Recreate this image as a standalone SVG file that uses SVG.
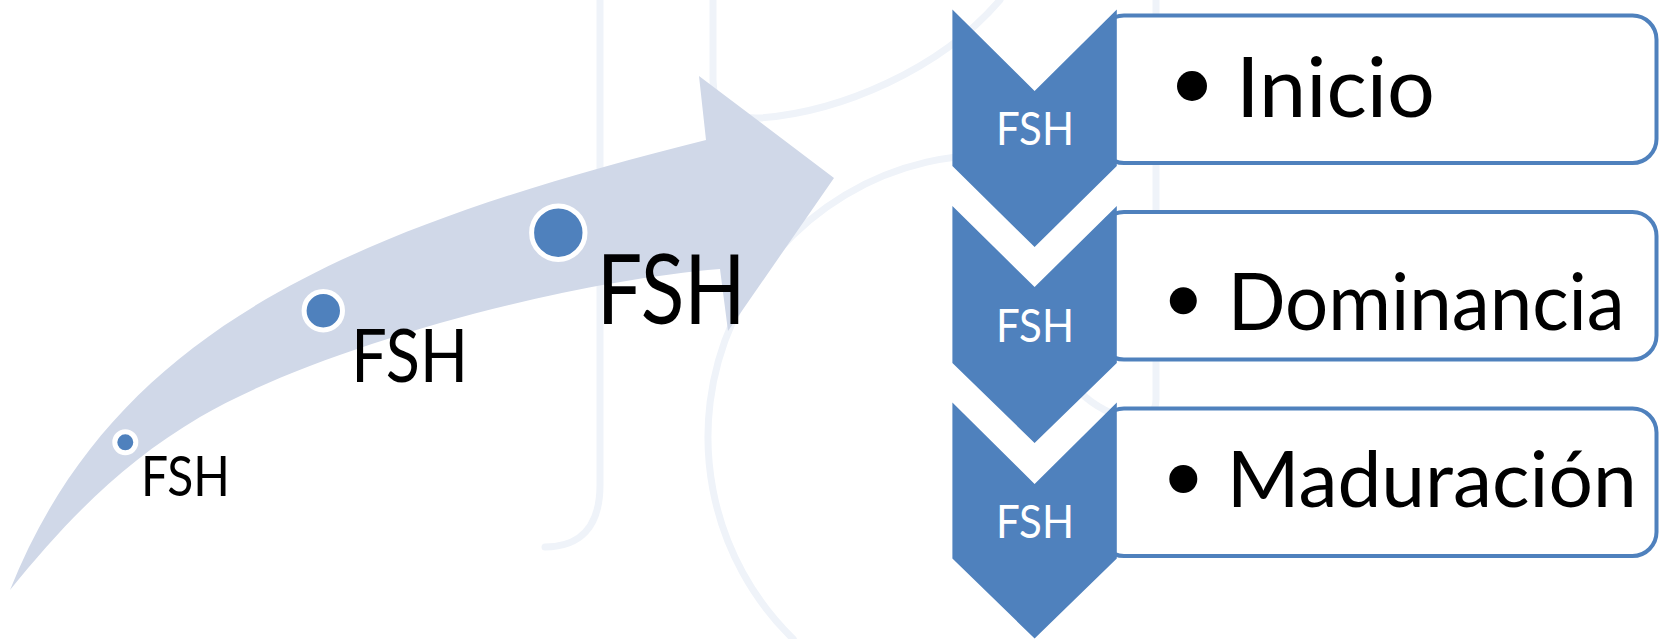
<svg xmlns="http://www.w3.org/2000/svg" width="1660" height="639" viewBox="0 0 1660 639">
  <style>
    .deco { fill: none; stroke: #EFF3F9; stroke-width: 7; stroke-linecap: round; }
    .flow { fill: #D0D8E8; }
    .dot { fill: #4F81BD; stroke: #FFFFFF; stroke-width: 5; }
    .lbl { font-family: Lato, "Liberation Sans", sans-serif; fill: #000000; }
    .chev { fill: #4F81BD; }
    .chev-lbl { font-family: Lato, "Liberation Sans", sans-serif; fill: #FFFFFF; font-size: 47px; }
    .box { fill: #FFFFFF; stroke: #4F81BD; stroke-width: 4; }
    .item { font-family: Lato, "Liberation Sans", sans-serif; fill: #000000; }
    .bullet { fill: #000000; }
  </style>
  <rect width="1660" height="639" fill="#FFFFFF"/>

  <!-- faint background strokes -->
  <g id="background">
    <path class="deco" d="M600,0 V485 C600,527 580,547 545,547"/>
    <path class="deco" d="M713,0 V80 Q713,120 760,118 C840,112 940,70 1000,0"/>
    <path class="deco" d="M1010,155.7 A282,282 0 0 0 793.2,639"/>
    <path class="deco" d="M1156,0 V400 C1156,428 1110,422 1080,392"/>
  </g>

  <!-- ascending arrow with three growing stages -->
  <g id="ascending-arrow">
    <path class="flow" d="M10,590 C112,334.8 337.4,232.3 706,140 L699,76 L834,178 L728,331 L720,269 C550,283 310,352 200,417 C125,461.25 70,516 10,590 Z"/>
  </g>
  <g id="stage-1">
    <circle class="dot" cx="125.3" cy="442.3" r="10.5"/>
    <text class="lbl" x="141" y="496" font-size="56" textLength="89" lengthAdjust="spacingAndGlyphs">FSH</text>
  </g>
  <g id="stage-2">
    <circle class="dot" cx="323.3" cy="310.7" r="19.2"/>
    <text class="lbl" x="351.3" y="381.8" font-size="73" textLength="116.6" lengthAdjust="spacingAndGlyphs">FSH</text>
  </g>
  <g id="stage-3">
    <circle class="dot" cx="558.3" cy="232.7" r="26.7"/>
    <text class="lbl" x="596.7" y="324" font-size="96" textLength="149" lengthAdjust="spacingAndGlyphs">FSH</text>
  </g>

  <!-- vertical chevron list -->
  <g id="step-inicio">
    <rect class="box" x="1100" y="15.5" width="556.5" height="147.5" rx="24"/>
    <polygon class="chev" points="952.4,9.5 1034.6,91 1116.8,9.5 1116.8,166 1034.6,247 952.4,166"/>
    <text class="chev-lbl" x="996" y="145" textLength="78" lengthAdjust="spacingAndGlyphs">FSH</text>
    <circle class="bullet" cx="1192" cy="86" r="15"/>
    <text class="item" x="1236" y="116.7" font-size="84" textLength="199" lengthAdjust="spacingAndGlyphs">Inicio</text>
  </g>
  <g id="step-dominancia">
    <rect class="box" x="1100" y="212" width="556.5" height="147.5" rx="24"/>
    <polygon class="chev" points="952.4,206 1034.6,287 1116.8,206 1116.8,363 1034.6,443 952.4,363"/>
    <text class="chev-lbl" x="996" y="341.7" textLength="78" lengthAdjust="spacingAndGlyphs">FSH</text>
    <circle class="bullet" cx="1183.3" cy="300.7" r="13.5"/>
    <text class="item" x="1227.7" y="330" font-size="79" textLength="397" lengthAdjust="spacingAndGlyphs">Dominancia</text>
  </g>
  <g id="step-maduracion">
    <rect class="box" x="1100" y="408.5" width="556.5" height="147.5" rx="24"/>
    <polygon class="chev" points="952.4,402.5 1034.6,484 1116.8,402.5 1116.8,558.5 1034.6,638.5 952.4,558.5"/>
    <text class="chev-lbl" x="996" y="538" textLength="78" lengthAdjust="spacingAndGlyphs">FSH</text>
    <circle class="bullet" cx="1183.3" cy="479" r="14"/>
    <text class="item" x="1226.7" y="507.3" font-size="77" textLength="410" lengthAdjust="spacingAndGlyphs">Maduración</text>
  </g>

  <g id="connectors"/>
</svg>
